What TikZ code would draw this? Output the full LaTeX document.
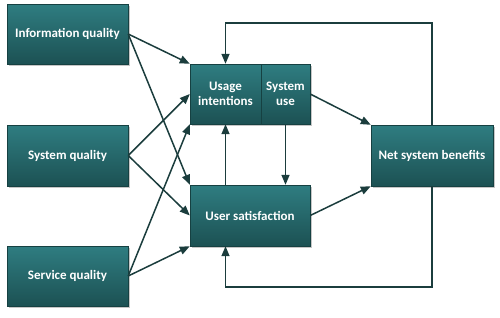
\documentclass[tikz,border=0pt]{standalone}
\usepackage{fontspec}
\setmainfont{Carlito}
\usetikzlibrary{arrows.meta,shadows}
\definecolor{boxtop}{HTML}{2F7D81}
\definecolor{boxbot}{HTML}{1C5153}
\definecolor{linkcol}{HTML}{1B3D3D}
\tikzset{
  factor/.style={draw=boxbot!80!black,line width=.4pt,top color=boxtop,bottom color=boxbot,
    text=white,font=\bfseries\fontsize{13}{14.5}\selectfont,align=center,inner sep=0pt,
    drop shadow={shadow xshift=1.5pt,shadow yshift=-1.5pt,opacity=.45}},
  link/.style={draw=linkcol,line width=1.5pt,-{Triangle[length=10pt,width=8pt]}}
}
\begin{document}
\begin{tikzpicture}[x=1pt,y=-1pt]
    \useasboundingbox (0,0) rectangle (500,317);
    % quality dimensions
    \node[factor,minimum width=121pt,minimum height=60pt] (info) at (67.5,34) {Information quality};
    \node[factor,minimum width=121pt,minimum height=61pt] (sysq) at (67.5,155.5) {System quality};
    \node[factor,minimum width=121pt,minimum height=60pt] (servq) at (67.5,276) {Service quality};
    % use and satisfaction
    \node[factor,minimum width=71pt,minimum height=60pt] (usage) at (225.5,94) {Usage\\intentions};
    \node[factor,minimum width=49pt,minimum height=60pt] (sysuse) at (285.5,94) {System\\use};
    \node[factor,minimum width=120pt,minimum height=61pt] (usersat) at (250,215.5) {User satisfaction};
    \node[factor,minimum width=122pt,minimum height=61pt] (net) at (432,155.5) {Net system benefits};
    \coordinate (top) at (0,23);
    \coordinate (bot) at (0,287);
    % links
    \foreach \src/\anc in {info/north west,sysq/west,servq/south west} {
        \draw[link] (\src.east) -- (usage.\anc);
        \draw[link] (\src.east) -- (usersat.\anc);
    }
    \draw[link] (usersat.north -| usage.south) -- (usage.south);
    \draw[link] (sysuse.south) -- (usersat.north -| sysuse.south);
    \draw[link] (sysuse.east) -- (net.north west);
    \draw[link] (usersat.east) -- (net.south west);
    % feedback
    \draw[link] (net.north) -- (net.north |- top) -| (usage.north);
    \draw[link] (net.south) -- (net.south |- bot) -| (usersat.south -| usage.south);
\end{tikzpicture}
\end{document}
